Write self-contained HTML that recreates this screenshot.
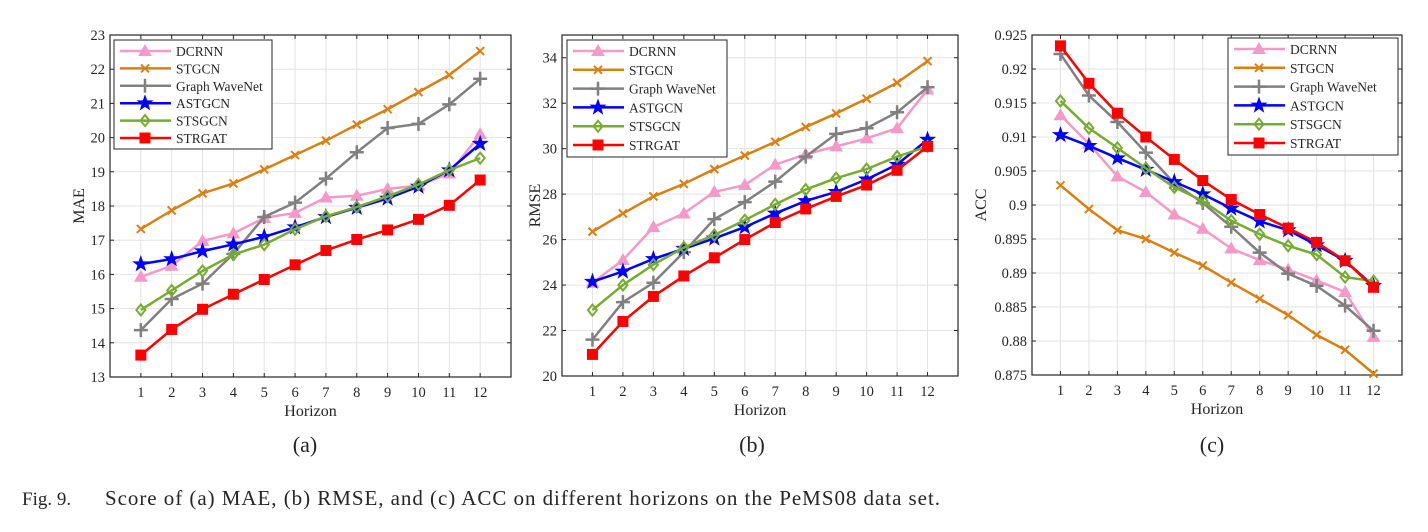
<!DOCTYPE html>
<html><head><meta charset="utf-8"><style>
body{margin:0;background:#fff;width:1428px;height:527px;overflow:hidden}
svg text{font-family:"Liberation Serif",serif;fill:#262626}
</style></head><body>
<svg id="fig" width="1428" height="527" viewBox="0 0 1428 527" xmlns="http://www.w3.org/2000/svg"></svg>
<script>
const horizons=[1,2,3,4,5,6,7,8,9,10,11,12];
const seriesNames=["DCRNN","STGCN","Graph WaveNet","ASTGCN","STSGCN","STRGAT"];
const maeDCRNN=[15.93,16.25,16.98,17.2,17.65,17.8,18.25,18.3,18.5,18.6,18.95,20.1];
const maeSTGCN=[17.33,17.87,18.37,18.66,19.07,19.49,19.91,20.38,20.83,21.33,21.83,22.53];
const maeGWN=[14.37,15.28,15.73,16.6,17.68,18.1,18.8,19.57,20.28,20.4,20.97,21.72];
const maeASTGCN=[16.3,16.45,16.68,16.88,17.1,17.38,17.68,17.95,18.22,18.57,19.05,19.82];
const maeSTSGCN=[14.96,15.53,16.1,16.58,16.87,17.32,17.7,17.97,18.28,18.63,19.05,19.4];
const maeSTRGAT=[13.64,14.39,14.98,15.42,15.85,16.28,16.7,17.02,17.3,17.61,18.02,18.76];
const rmseDCRNN=[24.1,25.1,26.55,27.15,28.1,28.4,29.3,29.75,30.1,30.45,30.9,32.6];
const rmseSTGCN=[26.35,27.15,27.9,28.45,29.1,29.7,30.3,30.95,31.55,32.2,32.9,33.85];
const rmseGWN=[21.6,23.25,24.1,25.45,26.9,27.65,28.55,29.65,30.65,30.9,31.6,32.7];
const rmseASTGCN=[24.15,24.6,25.15,25.6,26.05,26.55,27.15,27.7,28.1,28.65,29.3,30.4];
const rmseSTSGCN=[22.9,24.0,24.9,25.65,26.2,26.85,27.55,28.2,28.7,29.1,29.65,30.1];
const rmseSTRGAT=[20.95,22.4,23.5,24.4,25.2,26.0,26.75,27.35,27.9,28.4,29.05,30.1];
const accDCRNN=[0.9132,0.909,0.9042,0.9019,0.8986,0.8965,0.8936,0.8919,0.8905,0.8889,0.8872,0.8806];
const accSTGCN=[0.9029,0.8994,0.8963,0.895,0.893,0.8911,0.8886,0.8862,0.8838,0.8809,0.8787,0.8752];
const accGWN=[0.9222,0.9161,0.9122,0.9077,0.9032,0.9003,0.8968,0.893,0.8899,0.8881,0.8852,0.8815];
const accASTGCN=[0.9103,0.9087,0.9069,0.9052,0.9034,0.9016,0.8995,0.8976,0.8963,0.8941,0.8918,0.8881];
const accSTSGCN=[0.9153,0.9113,0.9084,0.9054,0.9026,0.9006,0.8977,0.8957,0.894,0.8927,0.8894,0.8888];
const accSTRGAT=[0.9234,0.9179,0.9135,0.91,0.9067,0.9036,0.9008,0.8986,0.8966,0.8945,0.8918,0.8879];
const maeTicks=[13,14,15,16,17,18,19,20,21,22,23];
const rmseTicks=[20,22,24,26,28,30,32,34];
const accTicks=[0.875,0.88,0.885,0.89,0.895,0.9,0.905,0.91,0.915,0.92,0.925];
const accTickLabels=["0.875","0.88","0.885","0.89","0.895","0.9","0.905","0.91","0.915","0.92","0.925"];

const colors=["#f59ac8","#d98012","#808080","#0000ff","#77ac30","#ff0000"];
const markers=["tri","x","plus","star","diamond","square"];
const NS="http://www.w3.org/2000/svg";
const svg=document.getElementById("fig");
function el(tag,attrs,parent){const e=document.createElementNS(NS,tag);for(const k in attrs)e.setAttribute(k,attrs[k]);(parent||svg).appendChild(e);return e;}

function marker(g,type,cx,cy,c){
  let m;
  if(type==="tri")m=el("polygon",{points:`${cx},${cy-6} ${cx-6},${cy+4.5} ${cx+6},${cy+4.5}`,fill:c,stroke:c,"stroke-width":1},g);
  else if(type==="x")m=el("path",{d:`M${cx-4},${cy-4}L${cx+4},${cy+4}M${cx-4},${cy+4}L${cx+4},${cy-4}`,stroke:c,"stroke-width":2},g);
  else if(type==="plus")m=el("path",{d:`M${cx-7},${cy}L${cx+7},${cy}M${cx},${cy-7}L${cx},${cy+7}`,stroke:c,"stroke-width":2.5},g);
  else if(type==="star"){let p=[];for(let i=0;i<10;i++){const r=i%2?3:7.5;const a=-Math.PI/2+i*Math.PI/5;p.push((cx+r*Math.cos(a)).toFixed(1)+","+(cy+r*Math.sin(a)).toFixed(1));}
    m=el("polygon",{points:p.join(" "),fill:c,stroke:c,"stroke-width":1},g);}
  else if(type==="diamond")m=el("polygon",{points:`${cx},${cy-5.5} ${cx+4.5},${cy} ${cx},${cy+5.5} ${cx-4.5},${cy}`,fill:"none",stroke:c,"stroke-width":2},g);
  else m=el("rect",{x:cx-5.5,y:cy-5.5,width:11,height:11,fill:c},g);
  return m;
}

function chart(cfg){
  const {x0,x1,y0,y1,ymin,ymax,ticks,tickLabels,series,ylabel,name,legend,letter,letterX}=cfg;
  const g=el("g",{});
  
  
  const sx=v=>x0+(v-0)/13*(x1-x0);
  const sy=v=>y1-(v-ymin)/(ymax-ymin)*(y1-y0);
  el("rect",{x:x0,y:y0,width:x1-x0,height:y1-y0,fill:"#fff"},g);
  horizons.forEach(h=>{
    el("line",{x1:sx(h),x2:sx(h),y1:y0,y2:y1,stroke:"#e3e3e3","stroke-width":1},g);
    const t=el("text",{x:sx(h),y:y1+20,"text-anchor":"middle","font-size":14.5},g);t.textContent=h;
    
    
    el("line",{x1:sx(h),x2:sx(h),y1:y1,y2:y1-4,stroke:"#262626"},g);
    el("line",{x1:sx(h),x2:sx(h),y1:y0,y2:y0+4,stroke:"#262626"},g);
  });
  ticks.forEach((v,i)=>{
    el("line",{x1:x0,x2:x1,y1:sy(v),y2:sy(v),stroke:"#e3e3e3","stroke-width":1},g);
    const t=el("text",{x:x0-5,y:sy(v)+5,"text-anchor":"end","font-size":14.5},g);t.textContent=tickLabels?tickLabels[i]:v;
    
    
    el("line",{x1:x0,x2:x0+4,y1:sy(v),y2:sy(v),stroke:"#262626"},g);
    el("line",{x1:x1,x2:x1-4,y1:sy(v),y2:sy(v),stroke:"#262626"},g);
  });
  el("rect",{x:x0,y:y0,width:x1-x0,height:y1-y0,fill:"none",stroke:"#262626","stroke-width":1.2},g);
  series.forEach((d,si)=>{
    const sg=el("g",{},g);
    
    
    el("polyline",{points:d.map((v,i)=>sx(horizons[i])+","+sy(v)).join(" "),fill:"none",stroke:colors[si],"stroke-width":2.5},sg);
    d.forEach((v,i)=>{const m=marker(sg,markers[si],sx(horizons[i]),sy(v),colors[si]);
      
      });
  });
  const xl=el("text",{x:(x0+x1)/2,y:y1+39,"text-anchor":"middle","font-size":16},g);xl.textContent="Horizon";
  
  
  const yx=cfg.ylx;
  const yl=el("text",{x:yx,y:(y0+y1)/2,"text-anchor":"middle","font-size":16,transform:`rotate(-90 ${yx} ${(y0+y1)/2})`},g);yl.textContent=ylabel;
  
  
  const lg=el("g",{},g);
  
  
  el("rect",{x:legend.x,y:legend.y,width:legend.w,height:legend.h,fill:"#fff",stroke:"#262626","stroke-width":1},lg);
  seriesNames.forEach((n,si)=>{
    const ly=legend.y+11+si*legend.step;
    const le=el("g",{},lg);
    
    
    el("line",{x1:legend.x+6,x2:legend.x+57,y1:ly,y2:ly,stroke:colors[si],"stroke-width":2.5},le);
    marker(le,markers[si],legend.x+31,ly,colors[si]);
    const t=el("text",{x:legend.x+62,y:ly+5,"font-size":13.5},le);t.textContent=n;
  });
  const lt=el("text",{x:letterX,y:452,"text-anchor":"middle","font-size":22},g);lt.textContent=letter;
  
  
}

chart({x0:110,x1:511,y0:35,y1:377,ymin:13,ymax:23,ticks:maeTicks,series:[maeDCRNN,maeSTGCN,maeGWN,maeASTGCN,maeSTSGCN,maeSTRGAT],ylabel:"MAE",ylx:84,name:"mae-chart",legend:{x:114,y:40,w:158,h:109,step:17.4},letter:"(a)",letterX:305});
chart({x0:562,x1:958,y0:35,y1:376,ymin:20,ymax:35,ticks:rmseTicks,series:[rmseDCRNN,rmseSTGCN,rmseGWN,rmseASTGCN,rmseSTSGCN,rmseSTRGAT],ylabel:"RMSE",ylx:540,name:"rmse-chart",legend:{x:567,y:40,w:160,h:117,step:18.8},letter:"(b)",letterX:752});
chart({x0:1032,x1:1402,y0:35,y1:375,ymin:0.875,ymax:0.925,ticks:accTicks,tickLabels:accTickLabels,series:[accDCRNN,accSTGCN,accGWN,accASTGCN,accSTSGCN,accSTRGAT],ylabel:"ACC",ylx:986,name:"acc-chart",legend:{x:1228,y:38,w:170,h:117,step:18.8},letter:"(c)",letterX:1212});

const capLbl=el("text",{x:22,y:505,"font-size":19});


capLbl.textContent="Fig. 9.";
const cap=el("text",{x:105,y:505,"font-size":21,textLength:835,lengthAdjust:"spacing"});


cap.textContent="Score of (a) MAE, (b) RMSE, and (c) ACC on different horizons on the PeMS08 data set.";
</script>
</body></html>
